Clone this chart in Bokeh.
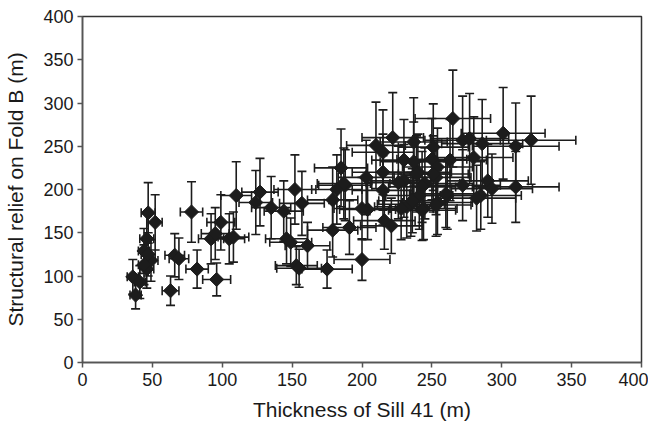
import math
from bokeh.plotting import figure
from bokeh.models import ColumnDataSource, Whisker, TeeHead, FixedTicker, Range1d
from bokeh.embed import file_html
from bokeh.resources import INLINE

# Thickness of Sill 41 (m)
thickness = [36, 38, 41, 44, 46, 46, 47, 49, 52, 63, 66, 69, 78, 82, 92, 95, 96, 99,
             105, 108, 110, 124, 127, 135, 47, 44,
             144, 152, 157, 146, 149, 161, 153, 155, 175, 200, 179, 191, 179, 185,
             182, 188, 203, 204, 200, 216, 221, 215, 215, 210, 222, 215, 237, 235,
             244, 240, 230,
             265, 301, 321, 310, 272, 277, 286, 251, 280, 263, 250, 237, 230, 310,
             290, 293, 285, 282, 272, 261, 254, 245, 241, 243, 253, 254, 232,
             228, 236, 253, 260, 187, 226, 239, 251, 243]
# Structural relief on Fold B (m)
relief = [99, 78, 93, 129, 143, 108, 173, 118, 162, 83, 124, 120, 174, 108, 143, 149, 96, 162,
          143, 145, 193, 185, 197, 179, 125, 113,
          175, 200, 184, 143, 139, 135, 112, 109, 108, 119, 153, 156, 188, 225,
          200, 205, 214, 177, 178, 164, 158, 199, 220, 251, 260, 243, 255, 183,
          178, 220, 210,
          282, 265, 257, 250, 257, 259, 253, 249, 237, 234, 235, 232, 234, 203,
          210, 201, 193, 190, 205, 193, 185, 207, 193, 176, 214, 226, 180,
          178, 187, 182, 195, 207, 208, 218, 218, 203]
# error on thickness (m)
thickness_err = [4, 4, 4, 4, 5, 5, 5, 5, 5, 6, 7, 7, 8, 8, 9, 10, 10, 10,
                 11, 11, 11, 12, 13, 14, 5, 4,
                 14, 15, 16, 15, 15, 16, 15, 16, 18, 20, 18, 19, 18, 19,
                 18, 19, 20, 20, 20, 22, 22, 22, 22, 21, 22, 22, 24, 24,
                 24, 24, 23,
                 27, 30, 32, 31, 27, 28, 29, 25, 28, 26, 25, 24, 23, 31,
                 29, 29, 29, 28, 27, 26, 25, 25, 24, 24, 25, 25, 23,
                 23, 24, 25, 26, 19, 23, 24, 25, 24]
# error on relief (m)
relief_err = [20, 16, 19, 26, 29, 22, 35, 24, 32, 17, 25, 24, 35, 22, 29, 30, 19, 32,
              29, 29, 39, 37, 39, 36, 25, 23,
              35, 40, 37, 29, 28, 27, 22, 22, 22, 24, 31, 31, 38, 45,
              40, 41, 43, 35, 36, 33, 32, 40, 44, 50, 52, 49, 51, 37,
              36, 44, 42,
              56, 53, 51, 50, 51, 52, 51, 50, 47, 47, 47, 46, 47, 41,
              42, 40, 39, 38, 41, 39, 37, 41, 39, 35, 43, 45, 36,
              36, 37, 36, 39, 41, 42, 44, 44, 41]

ticks = [0, 50, 100, 150, 200, 250, 300, 350, 400]

src = ColumnDataSource(dict(
    x=thickness, y=relief,
    xl=[a - e for a, e in zip(thickness, thickness_err)],
    xu=[a + e for a, e in zip(thickness, thickness_err)],
    yl=[a - e for a, e in zip(relief, relief_err)],
    yu=[a + e for a, e in zip(relief, relief_err)],
))

p = figure(width=648, height=424, output_backend="svg", toolbar_location=None,
           x_range=Range1d(0, 400), y_range=Range1d(0, 400),
           min_border_left=82, min_border_right=7, min_border_top=16, min_border_bottom=62)
p.background_fill_color = "white"
p.border_fill_color = "white"
p.outline_line_color = "#333333"
p.outline_line_width = 1.5
p.grid.visible = False

ink = "#1c1c1c"
bar_w = 1.6
p.add_layout(Whisker(source=src, base="x", lower="yl", upper="yu", dimension="height",
                     line_color=ink, line_width=bar_w,
                     upper_head=TeeHead(size=9, line_color=ink, line_width=bar_w),
                     lower_head=TeeHead(size=9, line_color=ink, line_width=bar_w)))
p.add_layout(Whisker(source=src, base="y", lower="xl", upper="xu", dimension="width",
                     line_color=ink, line_width=bar_w,
                     upper_head=TeeHead(size=9, line_color=ink, line_width=bar_w),
                     lower_head=TeeHead(size=9, line_color=ink, line_width=bar_w)))
p.scatter("x", "y", source=src, marker="square", angle=math.pi / 4, size=10,
          fill_color=ink, line_color=ink, line_width=1)

for ax in (p.xaxis[0], p.yaxis[0]):
    ax.ticker = FixedTicker(ticks=ticks)
    ax.minor_tick_line_color = None
    ax.major_tick_out = 5
    ax.major_tick_in = 0
    ax.axis_line_color = "#555555"
    ax.axis_line_width = 1.5
    ax.major_tick_line_color = "#555555"
    ax.major_tick_line_width = 1.5
    ax.major_label_text_font = "Liberation Sans"
    ax.major_label_text_font_size = "18px"
    ax.major_label_text_color = "#1a1a1a"
    ax.axis_label_text_font = "Liberation Sans"
    ax.axis_label_text_font_size = "21px"
    ax.axis_label_text_font_style = "normal"
    ax.axis_label_text_color = "#1a1a1a"

p.xaxis.axis_label = "Thickness of Sill 41 (m)"
p.yaxis.axis_label = "Structural relief on Fold B (m)"
p.xaxis.major_label_standoff = 5
p.xaxis.axis_label_standoff = 9
p.yaxis.major_label_standoff = 4
p.yaxis.axis_label_standoff = 13

open("out.html", "w").write(file_html(p, INLINE))
